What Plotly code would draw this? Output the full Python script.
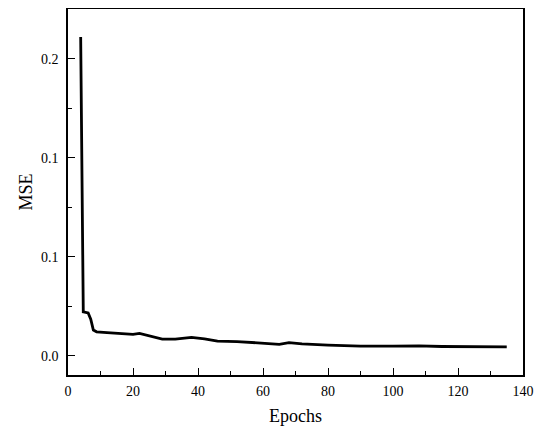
import plotly.graph_objects as go

epochs = [3.9, 4.2, 4.5, 4.7, 6.2, 7.0, 7.8, 8.8, 12, 16, 20, 22, 25, 29, 33, 38, 42, 46, 52, 58, 62, 65, 68, 72, 80, 90, 100, 108, 115, 124, 135]
mse = [0.161, 0.12, 0.06, 0.0222, 0.0216, 0.0185, 0.013, 0.0121, 0.0117, 0.0113, 0.0108, 0.0113, 0.0100, 0.0084, 0.0084,
       0.0093, 0.0085, 0.0074, 0.0072, 0.0066, 0.0062, 0.0058, 0.0066, 0.0060, 0.0054, 0.0049, 0.0049, 0.0050, 0.0047,
       0.0045, 0.0045]

x_ticks = [0, 20, 40, 60, 80, 100, 120, 140]
y_ticks = [0.0, 0.05, 0.10, 0.15]
y_labels = ["0.0", "0.1", "0.1", "0.2"]

fig = go.Figure()
fig.add_trace(go.Scatter(x=epochs, y=mse, mode="lines",
                         line=dict(color="black", width=2.8), showlegend=False))

font = dict(family="Liberation Serif, Times New Roman, serif", color="black")
fig.update_layout(
    width=550, height=435,
    margin=dict(l=60, r=35, t=1, b=68, autoexpand=False),
    paper_bgcolor="white", plot_bgcolor="white",
    font=dict(**font, size=14),
)
fig.update_xaxes(
    range=[0, 140], tickvals=x_ticks, ticks="inside", ticklen=7, tickwidth=1.3,
    tickcolor="black", showline=True, linecolor="black", linewidth=1.5, mirror=True,
    showgrid=False, zeroline=False, ticklabelstandoff=2,
    minor=dict(ticks="inside", ticklen=4, tickwidth=1.2, tickcolor="black", dtick=10, tick0=0),
    title=dict(text="Epochs", font=dict(**font, size=18), standoff=12),
    tickfont=dict(**font, size=14),
)
fig.update_yaxes(
    range=[-0.0097, 0.1751], tickvals=y_ticks, ticktext=y_labels, ticks="inside", ticklen=7,
    tickwidth=1.3, tickcolor="black", showline=True, linecolor="black", linewidth=1.5, mirror=True,
    showgrid=False, zeroline=False, ticklabelstandoff=5,
    minor=dict(ticks="inside", ticklen=4, tickwidth=1.2, tickcolor="black", dtick=0.025, tick0=0),
    title=dict(text="MSE", font=dict(**font, size=18), standoff=4),
    tickfont=dict(**font, size=14),
)
fig.write_html("out.html")
